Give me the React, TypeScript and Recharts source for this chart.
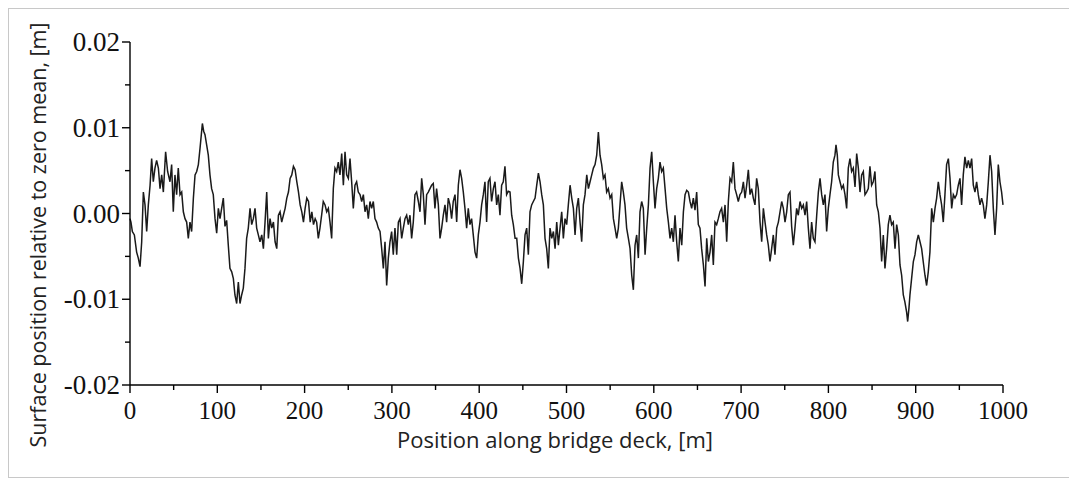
import { Line, LineChart, XAxis, YAxis } from "recharts";

// positions along the deck [m]
const positions = [
  0, 1.1, 2.7, 5, 7.6, 9.5, 11.5, 13.4, 15.3, 17.2, 19.1, 21, 23, 24.8, 26.7, 28.6, 30.5, 32.5, 34.4, 36.3,
  38.2, 40.8, 43.1, 45.8, 47.7, 49.6, 51.5, 53.4, 55.3, 57.3, 59.2, 61.1, 63, 64.9, 66.8, 68.7, 70.6, 72.6,
  74.5, 76.4, 78.3, 80.2, 82.9, 84.4, 85.9, 87.8, 89.7, 91.6, 93.5, 95.4, 97.4, 99.3, 101.2, 103.1, 106.9,
  108.8, 110.7, 112.6, 114.5, 116.5, 118.4, 120.2, 122.2, 124.1, 126, 127.9, 129.8, 131.7, 133.6, 135.5,
  137.5, 139.4, 141.3, 143.2, 145.1, 147, 148.9, 150.9, 152.8, 154.7, 156.6, 158.5, 160.4, 162.3, 164.3,
  166.2, 168.1, 170, 171.9, 173.8, 175.7, 177.7, 179.6, 181.5, 183.4, 185.3, 187.2, 189.1, 191.1, 193,
  194.9, 196.8, 198.7, 200.6, 202.5, 204.5, 206.4, 208.3, 210.2, 212.1, 213.8, 215.7, 217.6, 219.5, 221.4,
  223.4, 225.3, 227.2, 229.1, 231, 232.9, 234.8, 236.7, 238.6, 240.5, 242.5, 244.4, 246.3, 248.2, 250.1,
  252, 253.9, 255.8, 257.7, 259.6, 261.5, 263.5, 265.4, 267.3, 269.2, 271.1, 273, 274.9, 276.8, 278.7,
  280.6, 282.5, 284.4, 286.4, 288.3, 290.2, 292.1, 294, 295.9, 297.8, 299.7, 301.6, 303.5, 305.5, 307.4,
  309.3, 311.2, 313.1, 315, 316.9, 318.8, 320.7, 322.6, 324.5, 326.4, 328.3, 330.3, 332.2, 334.1, 336,
  337.9, 339.8, 341.7, 343.6, 345.5, 347.4, 349.3, 351.2, 353.2, 355.1, 357, 358.9, 360.8, 362.7, 364.6,
  366.5, 368.4, 370.3, 372.3, 374.2, 376.1, 378, 379.9, 381.8, 383.7, 385.6, 387.5, 389.4, 391.3, 393.2,
  395.2, 397.1, 399, 400.9, 402.8, 404.7, 406.6, 408.5, 410.4, 412.3, 414.2, 416.2, 418.1, 420, 421.9,
  423.8, 425.7, 427.6, 429.5, 431.4, 433.3, 435.3, 437.2, 439.1, 441.1, 443, 444.9, 446.8, 448.7, 450.6,
  452.5, 454.4, 456.3, 458.2, 460.1, 462, 464, 465.9, 467.8, 469.7, 471.6, 473.5, 475.4, 477.3, 479.2,
  481.1, 483.1, 485, 486.9, 488.8, 490.7, 492.6, 494.5, 496.4, 498.3, 500.2, 502.1, 504.1, 506, 507.9,
  509.8, 511.7, 513.6, 515.5, 517.4, 519.3, 521.2, 523.2, 525.1, 527, 528.9, 530.8, 532.7, 534.6, 536.5,
  538.4, 540.3, 542.2, 544.1, 546, 547.9, 549.9, 551.8, 553.7, 555.6, 557.5, 559.4, 561.3, 563.2, 565.1,
  567, 568.9, 570.9, 572.8, 574.7, 576.6, 578.5, 580.4, 582.3, 584.2, 586.1, 588, 590, 591.9, 593.8,
  595.7, 597.6, 599.5, 601.4, 603.3, 605.2, 607.1, 609, 610.9, 612.9, 614.8, 616.7, 618.6, 620.5, 622.4,
  624.3, 626.2, 628.1, 630, 632, 633.9, 635.8, 637.7, 639.6, 641.5, 643.4, 645.3, 647.2, 649.1, 651,
  652.9, 654.8, 656.8, 658.7, 660.6, 662.5, 664.4, 666.3, 668.2, 670.1, 672, 673.9, 675.8, 677.7, 679.7,
  681.6, 683.5, 685.4, 687.3, 689.2, 691.1, 693, 694.9, 696.8, 698.7, 700.7, 702.6, 704.5, 706.4, 708.3,
  710.2, 712.1, 714, 715.9, 717.8, 719.7, 721.7, 723.6, 725.5, 727.4, 729.3, 731.2, 733.1, 735, 736.9,
  738.8, 740.8, 742.7, 744.6, 746.5, 748.4, 750.3, 752.2, 754.1, 756, 757.9, 759.8, 761.7, 763.6, 765.5,
  767.5, 769.4, 771.3, 773.2, 775.1, 777, 778.9, 780.8, 782.7, 784.6, 786.6, 788.5, 790.4, 792.3, 794.2,
  796.1, 798, 799.9, 801.8, 803.7, 805.6, 807.5, 808.7, 810.2, 811.4, 813.3, 815.2, 817.1, 819, 820.9,
  822.8, 824.7, 826.6, 828.5, 830.5, 832.4, 834.3, 836.2, 838.1, 840, 841.9, 843.8, 845.7, 847.6, 849.5,
  851.4, 853.3, 855.3, 857.2, 859.1, 861, 862.9, 864.8, 866.7, 868.6, 870.5, 872.4, 874.3, 876.3, 878.2,
  880.1, 882, 883.9, 885.8, 887.6, 889.6, 890.8, 892.3, 893.4, 895.3, 897.3, 899.2, 901.1, 903, 904.9,
  906.8, 908.6, 910.6, 912.5, 914.4, 916.3, 918.3, 920.2, 922.1, 924, 925.9, 927.8, 929.7, 931.6, 933.5,
  935.4, 937.4, 939.3, 941.2, 943.1, 945, 946.9, 948.8, 950.7, 952.6, 954.5, 956.4, 958.4, 960.3, 962.2,
  964.1, 966, 967.9, 969.8, 971.7, 973.6, 975.5, 977.4, 979.3, 981.3, 983.2, 985.1, 987, 988.9, 990.8,
  992.7, 994.6, 996.5, 998.4, 1000,
];

// surface position relative to zero mean, in mm
const surfaceMm = [
  -0.6, -1, -2.1, -2.5, -4.5, -5.2, -6.2, -3.3, 2.5, 1, -2.1, 1, 3.3, 6.4, 3.7, 5.3, 6.2, 5.3, 2.9, 4.5,
  2.5, 7.2, 4.9, 3.7, 5.7, 0.2, 4.5, 2.2, 5.3, 2.2, 2.5, 0.2, -0.6, -1, -2.9, -1, -2.1, 1.8,
  4.5, 4.9, 5.7, 7.6, 10.5, 9.6, 9.2, 8, 6.8, 4.5, 2.9, 2.2, -0.6, -2.3, 0.6, -0.6, 1.8,
  -1.5, -0.8, -3.7, -6.4, -6.8, -7.6, -9.5, -10.5, -8, -10.5, -9.5, -8.7, -6.4, -2.9, -1.7,
  0.6, -1.3, -0.6, 0.6, -1.7, -2.5, -3.3, -2.5, -4.1, -1, 2.5, -2.9, -0.6, -1.7, -1,
  -3.3, -4.1, -0.2, 0.2, -1, -0.2, 0.6, 1.8, 2.5, 4.1, 4.5, 5.5, 5.1, 3.7, 2.5,
  1, 0.2, -1, 0.6, 1.8, 1.4, -1, 0.2, -1.3, -0.6, -1, -2.9, -1.7, -0.2, 1.4,
  1, 0.2, 0.6, -1, -2.9, 2.9, 5.3, 4.9, 6, 4.5, 7, 3.3, 7.2, 4.5, 4.1,
  6.4, 3.7, 0.6, 3.3, 3.7, 2.5, 2.2, 1.4, 2.2, 0.2, 1, -0.6, 1.4, 0.6, 1.4,
  -0.6, -1, -1.7, -2.1, -4.1, -6.4, -3.3, -8.4, -5.2, -3.3, -2.1, -4.8, -1.7, -4.8, -1,
  -0.6, -2.9, -1.7, -0.6, -0.2, -1.3, -0.2, -2.9, -1, 2.2, 2.5, 1.4, 0.2, 4.1, 2.2,
  -1.3, 2.2, 2.5, 2.9, 3.3, 3.5, 0.6, 2.9, 1, -2.9, -1.7, -0.2, 1, -1, 1.8,
  1, -0.6, 1.4, 2.2, -1, 3.3, 5.1, 4.1, 2.5, 0.6, -1.7, 0.6, -1.3, -0.6, -2.5,
  -4.5, -5.2, -2.5, -1, 1, 2.2, 3.7, -1, 3.7, 4.1, 1.4, 2.9, 3.7, 1, 2.2,
  -0.2, 3.3, 3.7, 5.5, 2.2, 2.6, 2.5, -0.2, -1.3, -2.9, -2.9, -5.2, -6.4, -8.2, -5.6,
  -2.5, -1.7, -4.8, 0.2, 1, 1.4, 1.8, 3.3, 4.7, 3.7, 2.2, 1, -2.9, -4.1, -6.4,
  -1.7, -2.9, -2.1, -4.1, -1, -3.7, -1.7, 0.2, -2.9, -0.6, -1.3, 1, 3.3, 1.8, 0.6,
  -2.5, 0.6, 1.8, -1, -3.3, 1, 2.2, 4.5, 2.9, 3.7, 4.5, 5.3, 5.7, 6.8, 9.5,
  6.8, 5.7, 4.1, 4.5, 2.5, 2.9, 1.8, 2.2, -0.6, -1.7, -2.9, -1.7, 1, 3.7, 2.5,
  1, -1.7, -2.9, -4.1, -7.2, -8.9, -3.7, -2.5, -5.2, 0.2, 1.4, 0.6, -4.8, -1.7, 1,
  5.3, 7.2, 3.7, 0.6, 2.9, 4.1, 6, 4.9, 5.3, 2.9, 0.6, -1, -2.9, -1.7, -3.3,
  -0.2, -3.3, -5.6, -1.7, -3.7, 0.2, 2.2, 2.7, 2.5, 1.4, 0.6, 1.8, 0.4, 2.5, -1.3,
  -1.7, -4.1, -6, -8.5, -2.9, -5.6, -4.5, -2.5, -6, -1, -1.3, -0.6, 0.2, 0.6, -1,
  1, -3.3, 1.4, 4.1, 3.7, 6, 2.9, 2.2, 1.4, 2.2, 2.5, 3.7, 1.8, 3.3, 5.1,
  2.2, 2.9, 1.8, 1, 4.1, 2.9, -1, -3.3, 0.6, -1, -2.5, -3.7, -5.6, -4.1, -2.5,
  -4.8, -1.7, -1, 0.2, 1.4, 0.6, -1, 0.2, 2.2, 2.5, -1.5, -3.7, -1.7, 0.6, -0.2,
  1.4, 0.6, 1, -0.2, 1.4, -1.7, -4.1, -1, -2.9, -3.3, -0.2, 2.5, 4.1, 2.2, 1,
  2.2, -2.1, 0.6, 2.2, 3.7, 6, 6.8, 8, 6.8, 4.5, 3.7, 2.9, 3.3, 2.2, 0.6,
  5.3, 6.4, 4.9, 5.3, 3.1, 7, 5.3, 2.5, 4.5, 4.9, 2.2, 2.5, 2.9, 5.5, 3.3,
  3.7, 4.9, 1, 0.2, -1.7, -5.6, -2.5, -6.4, -4.1, -1.3, -0.2, -1.3, -1, -4.1, -1.3,
  -2.5, -6, -7.2, -9.5, -10.3, -11.5, -12.6, -11, -9.5, -7.6, -5.6, -4.8, -3.3, -2.5, -3.3,
  -4.1, -5.6, -7.2, -8.4, -6.8, -4.5, 0.6, -1, 0.6, 1.8, 3.7, 2.2, 1, -1, 2.2,
  5.7, 6.4, 4.1, 0.6, 2.2, 1.8, 2.2, 3.3, 4.1, 1, 4.5, 6.6, 5.3, 6.2, 5.3,
  6.4, 3.3, 2.5, 3.7, 2.2, 1, 1.8, 1, -0.6, 1, 3.7, 6.8, 4.9, 0.6, -2.5,
  0.6, 5.7, 3.7, 2.5, 1,
];

const xTicks = [0, 50, 100, 150, 200, 250, 300, 350, 400, 450, 500, 550, 600, 650, 700, 750, 800, 850, 900, 950, 1000];
const yTicks = [-0.02, -0.015, -0.01, -0.005, 0, 0.005, 0.01, 0.015, 0.02];

const data = positions.map((x, i) => ({ x, y: surfaceMm[i] / 1000 }));

const tickFont = "'Liberation Serif', 'Times New Roman', serif";
const titleFont = "'Open Sans', 'Noto Sans', sans-serif";

function XTick(props: any) {
  const { x, y, payload } = props;
  const major = payload.value % 100 === 0;
  return (
    <g>
      <line x1={x} x2={x} y1={y} y2={y + (major ? 8 : 5)} stroke="#000" strokeWidth={1.4} />
      {major && (
        <text x={x} y={y + 34} textAnchor="middle" fontFamily={tickFont} fontSize={25} fill="#111">
          {payload.value}
        </text>
      )}
    </g>
  );
}

function YTick(props: any) {
  const { x, y, payload } = props;
  const v = payload.value;
  const major = Math.abs(Math.round(v * 100) - v * 100) < 1e-6;
  return (
    <g>
      <line x1={x - (major ? 8 : 5)} x2={x} y1={y} y2={y} stroke="#000" strokeWidth={1.4} />
      {major && (
        <text x={x - 10} y={y + 9} textAnchor="end" fontFamily={tickFont} fontSize={27} fill="#111">
          {v.toFixed(2)}
        </text>
      )}
    </g>
  );
}

export default function App() {
  return (
    <div style={{ position: "absolute", left: 0, top: 0, width: 1069, height: 491, background: "#fff" }}>
      <div
        style={{
          position: "absolute",
          left: 8,
          top: 8,
          width: 1070,
          height: 470,
          border: "1px solid #c8c8c8",
          boxSizing: "border-box",
        }}
      />
      <LineChart
        width={1069}
        height={491}
        data={data}
        margin={{ top: 42, right: 66, bottom: 76, left: 60 }}
        style={{ position: "absolute", left: 0, top: 0 }}
      >
        <XAxis
          dataKey="x"
          type="number"
          domain={[0, 1000]}
          ticks={xTicks}
          tick={<XTick />}
          tickLine={false}
          tickSize={0}
          tickMargin={0}
          height={30}
          interval={0}
          axisLine={{ stroke: "#000", strokeWidth: 1.4 }}
        />
        <YAxis
          type="number"
          domain={[-0.02, 0.02]}
          ticks={yTicks}
          tick={<YTick />}
          tickLine={false}
          tickSize={0}
          tickMargin={0}
          width={70}
          interval={0}
          allowDataOverflow
          axisLine={{ stroke: "#000", strokeWidth: 1.4 }}
        />
        <Line
          type="linear"
          dataKey="y"
          stroke="#1a1a1a"
          strokeWidth={1.5}
          dot={false}
          isAnimationActive={false}
        />
      </LineChart>
      <div
        style={{
          position: "absolute",
          left: 555,
          top: 439,
          transform: "translate(-50%, -50%)",
          whiteSpace: "nowrap",
          fontFamily: titleFont,
          fontSize: 22,
          lineHeight: 1,
          color: "#222",
        }}
      >
        Position along bridge deck, [m]
      </div>
      <div
        style={{
          position: "absolute",
          left: 38,
          top: 235,
          transform: "translate(-50%, -50%) rotate(-90deg)",
          whiteSpace: "nowrap",
          fontFamily: titleFont,
          fontSize: 21.5,
          lineHeight: 1,
          color: "#222",
        }}
      >
        Surface position relative to zero mean, [m]
      </div>
    </div>
  );
}
